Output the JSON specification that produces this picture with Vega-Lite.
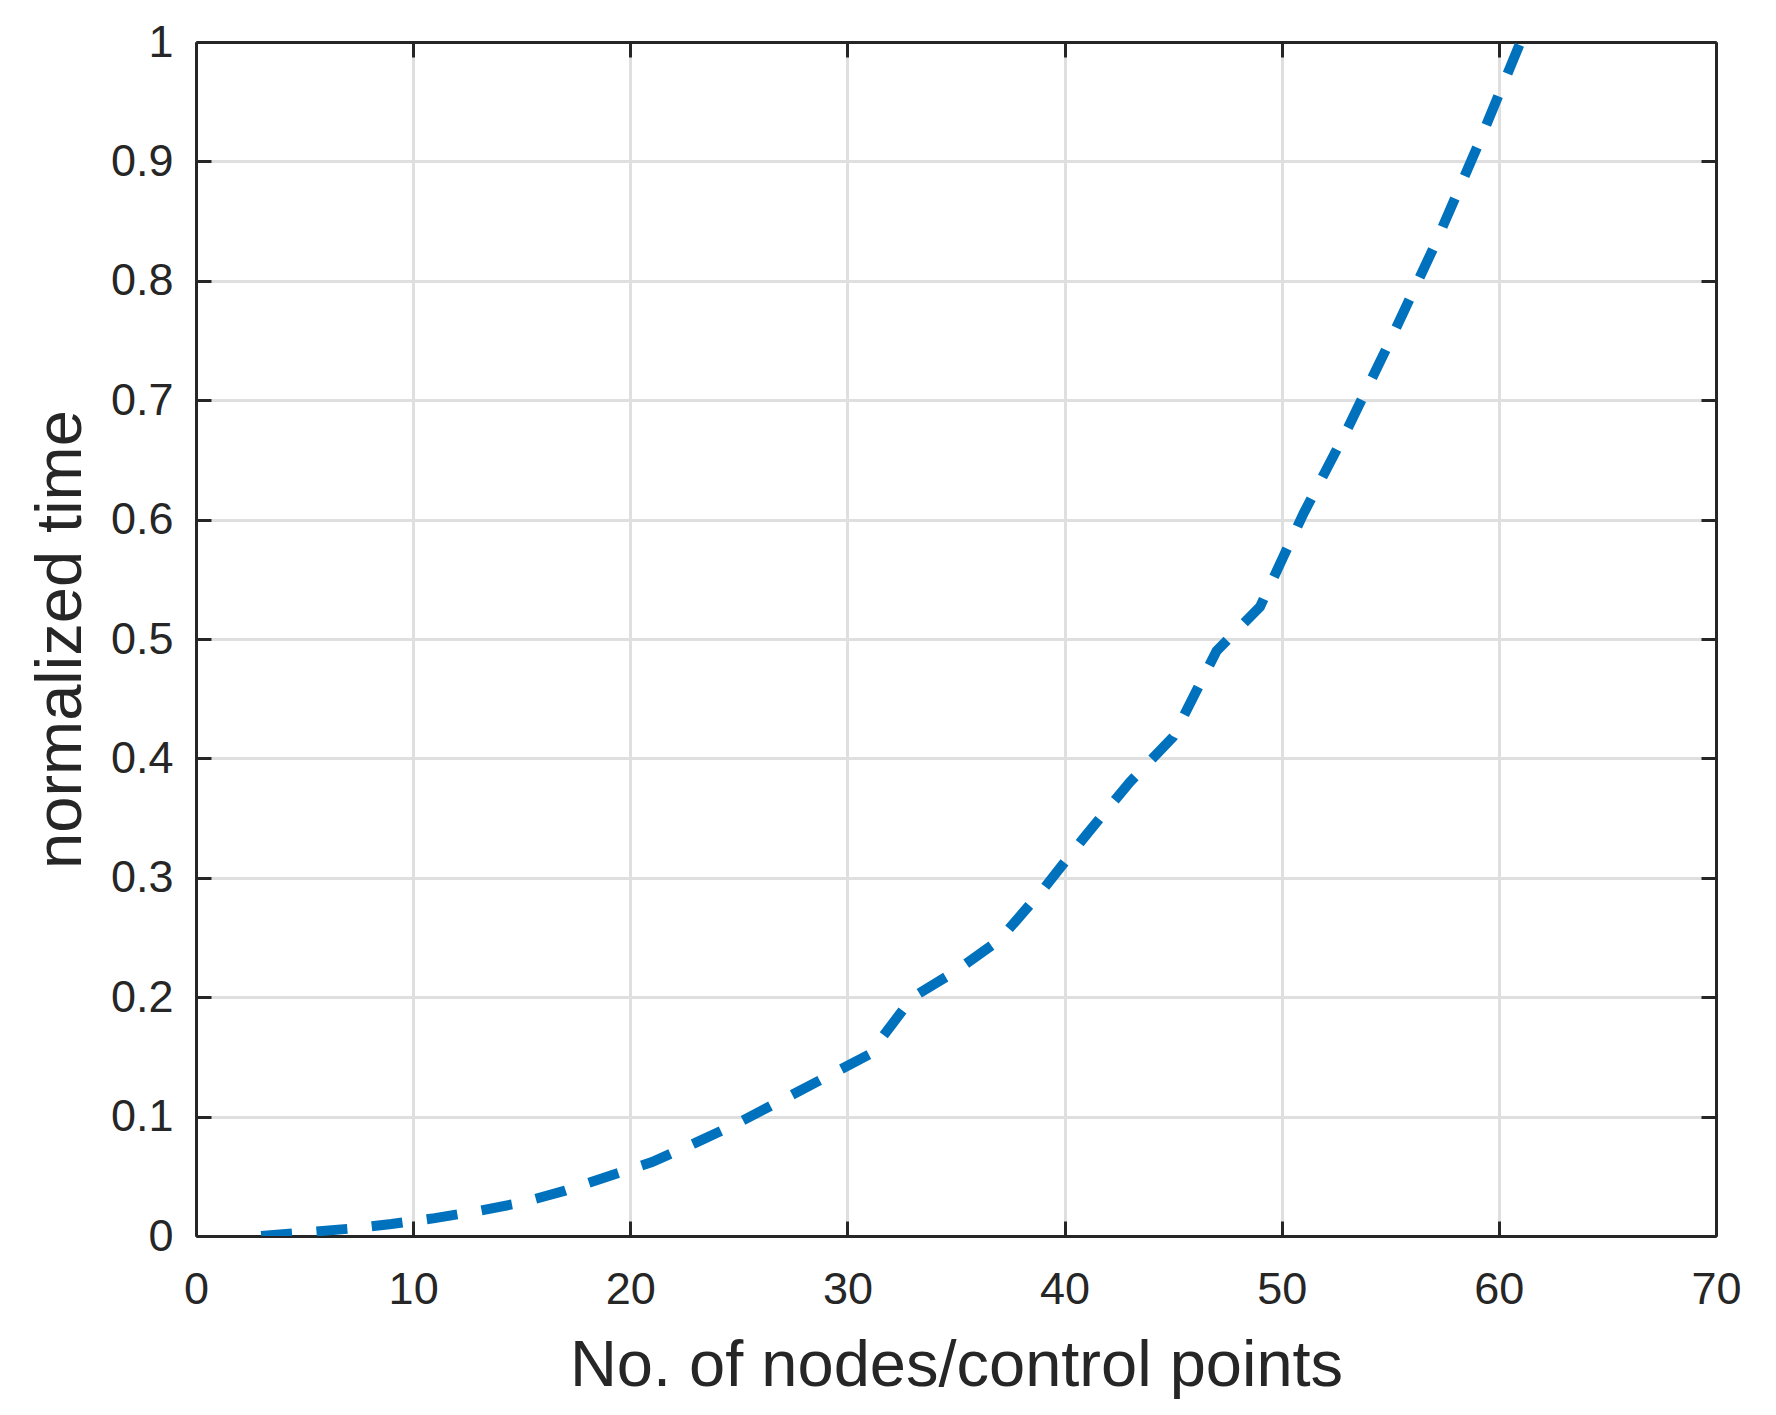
{
  "$schema": "https://vega.github.io/schema/vega-lite/v6.json",
  "description": "Normalized time vs number of nodes/control points",
  "width": 1520,
  "height": 1194,
  "autosize": {"type": "none"},
  "padding": {"left": 196, "top": 42, "right": 60, "bottom": 179},
  "background": "white",
  "config": {
    "view": {"stroke": null},
    "font": "Liberation Sans",
    "axis": {
      "domainColor": "#262626",
      "domainWidth": 3,
      "tickColor": "#262626",
      "tickWidth": 3,
      "tickSize": -15,
      "gridColor": "#DFDFDF",
      "gridWidth": 3,
      "labelFont": "Liberation Sans",
      "labelFontSize": 45,
      "labelColor": "#262626",
      "labelFlush": false,
      "titleFont": "Liberation Sans",
      "titleFontSize": 65,
      "titleFontWeight": "normal",
      "titleColor": "#262626"
    }
  },
  "data": {
    "values": [
      {"nodes": 3, "time": 0.0},
      {"nodes": 5, "time": 0.003},
      {"nodes": 7, "time": 0.006},
      {"nodes": 9, "time": 0.010},
      {"nodes": 11, "time": 0.015},
      {"nodes": 13, "time": 0.021},
      {"nodes": 15, "time": 0.028},
      {"nodes": 17, "time": 0.038},
      {"nodes": 19, "time": 0.050},
      {"nodes": 21, "time": 0.062},
      {"nodes": 23, "time": 0.078},
      {"nodes": 25, "time": 0.095},
      {"nodes": 27, "time": 0.114},
      {"nodes": 29, "time": 0.133},
      {"nodes": 31, "time": 0.152},
      {"nodes": 33, "time": 0.200},
      {"nodes": 35, "time": 0.222},
      {"nodes": 37, "time": 0.248},
      {"nodes": 39, "time": 0.290},
      {"nodes": 41, "time": 0.336},
      {"nodes": 43, "time": 0.380},
      {"nodes": 45, "time": 0.418},
      {"nodes": 47, "time": 0.490},
      {"nodes": 49, "time": 0.527},
      {"nodes": 51, "time": 0.605},
      {"nodes": 53, "time": 0.675},
      {"nodes": 55, "time": 0.750},
      {"nodes": 57, "time": 0.828},
      {"nodes": 59, "time": 0.912},
      {"nodes": 61, "time": 1.0}
    ]
  },
  "layer": [
    {
      "mark": {
        "type": "line",
        "color": "#0072BD",
        "strokeWidth": 10,
        "strokeDash": [31, 24.5],
        "strokeCap": "butt",
        "clip": true
      },
      "encoding": {
        "x": {
          "field": "nodes",
          "type": "quantitative",
          "scale": {"domain": [0, 70], "nice": false, "zero": false},
          "axis": {
            "orient": "bottom",
            "values": [0, 10, 20, 30, 40, 50, 60, 70],
            "labelPadding": 46,
            "title": "No. of nodes/control points",
            "titleBaseline": "alphabetic",
            "titleY": 149
          }
        },
        "y": {
          "field": "time",
          "type": "quantitative",
          "scale": {"domain": [0, 1], "nice": false},
          "axis": {
            "orient": "left",
            "values": [0, 0.1, 0.2, 0.3, 0.4, 0.5, 0.6, 0.7, 0.8, 0.9, 1],
            "format": "~g",
            "labelPadding": 38,
            "title": "normalized time",
            "titleBaseline": "alphabetic",
            "titleX": -116,
            "titleY": 597
          }
        }
      }
    },
    {
      "mark": {"type": "line", "strokeOpacity": 0},
      "encoding": {
        "x": {
          "field": "nodes",
          "type": "quantitative",
          "scale": {"domain": [0, 70], "nice": false, "zero": false},
          "axis": {
            "orient": "top",
            "values": [0, 10, 20, 30, 40, 50, 60, 70],
            "labels": false,
            "grid": false,
            "title": null
          }
        },
        "y": {
          "field": "time",
          "type": "quantitative",
          "scale": {"domain": [0, 1], "nice": false},
          "axis": {
            "orient": "right",
            "values": [0, 0.1, 0.2, 0.3, 0.4, 0.5, 0.6, 0.7, 0.8, 0.9, 1],
            "labels": false,
            "grid": false,
            "title": null
          }
        }
      }
    }
  ],
  "resolve": {"axis": {"x": "independent", "y": "independent"}}
}
